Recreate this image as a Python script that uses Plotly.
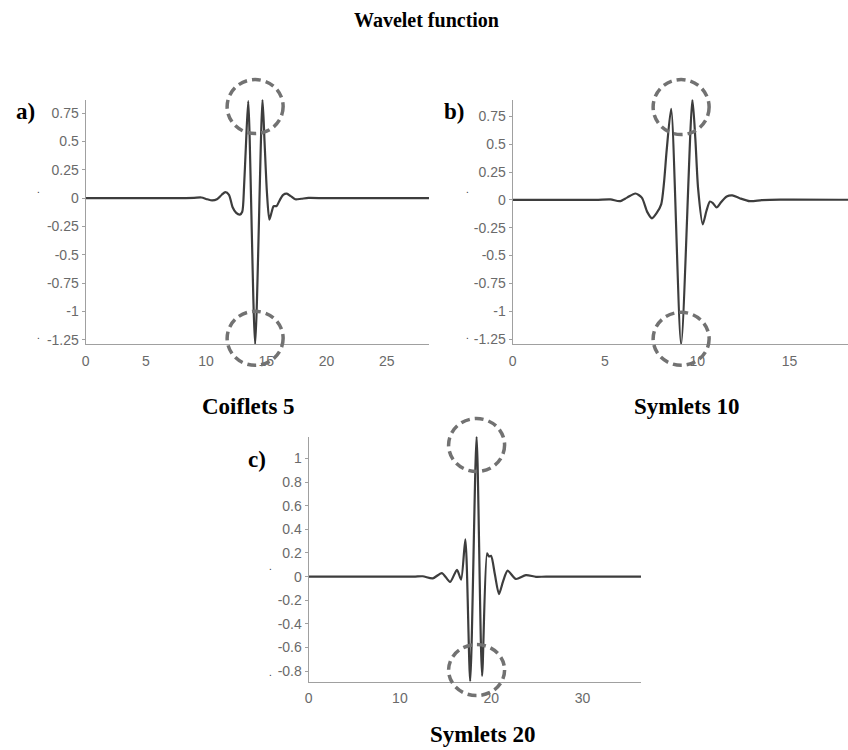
import plotly.graph_objects as go

# ---- wavelet samples (x = support position, y = psi amplitude) ----
coif5_x = [0, 7.5, 9.0, 9.6, 10.1, 10.5, 10.9, 11.3, 11.6, 11.9, 12.2, 12.5, 12.8,
           13.0, 13.15, 13.3, 13.5, 14.07, 14.68, 14.85, 15.05, 15.25, 15.45, 15.6,
           15.85, 16.1, 16.4, 16.7, 17.0, 17.4, 17.9, 18.5, 20, 29]
coif5_y = [0, 0, 0.003, 0.006, -0.01, -0.02, -0.01, 0.03, 0.053, 0.03, -0.08, -0.13,
           -0.145, -0.12, 0.1, 0.45, 0.856, -1.29, 0.87, 0.5, 0.05, -0.19, -0.12,
           -0.07, -0.07, -0.02, 0.03, 0.04, 0.02, -0.01, -0.005, 0.002, 0, 0]

sym10_x = [0, 4.5, 5.3, 5.8, 6.2, 6.65, 7.0, 7.3, 7.55, 7.8, 8.05, 8.2, 8.35, 8.59,
           9.13, 9.74, 9.9, 10.05, 10.3, 10.5, 10.69, 10.85, 11.05, 11.3, 11.6, 11.9,
           12.3, 12.85, 13.5, 14.5, 19]
sym10_y = [0, 0, 0.004, -0.012, 0.02, 0.057, 0.02, -0.11, -0.166, -0.12, -0.04, 0.15,
           0.45, 0.816, -1.297, 0.9, 0.55, 0.1, -0.22, -0.1, -0.015, -0.03, -0.068,
           -0.02, 0.03, 0.04, 0.015, -0.012, -0.003, 0.002, 0]

sym20_x = [0, 11.5, 12.5, 13.6, 14.6, 15.5, 16.25, 16.7, 17.17, 17.7, 18.4, 19.0,
           19.55, 19.75, 19.98, 20.4, 20.85, 21.3, 21.8, 22.7, 23.8, 24.9, 26, 39]
sym20_y = [0, 0, 0.003, -0.015, 0.03, -0.045, 0.058, -0.025, 0.316, -0.888, 1.185,
           -0.84, 0.196, 0.17, 0.176, 0.02, -0.148, -0.04, 0.05, -0.02, 0.013, -0.002,
           0, 0]

# ---- tick labels ----
ab_ytick_vals = [-1.25, -1, -0.75, -0.5, -0.25, 0, 0.25, 0.5, 0.75]
ab_ytick_text = ["-1.25", "-1", "-0.75", "-0.5", "-0.25", "0", "0.25", "0.5", "0.75"]
c_ytick_vals = [-0.8, -0.6, -0.4, -0.2, 0, 0.2, 0.4, 0.6, 0.8, 1]
c_ytick_text = ["-0.8", "-0.6", "-0.4", "-0.2", "0", "0.2", "0.4", "0.6", "0.8", "1"]
a_xticks = [0, 5, 10, 15, 20, 25]
b_xticks = [0, 5, 10, 15]
c_xticks = [0, 10, 20, 30]

titles = ["Coiflets 5", "Symlets 10", "Symlets 20"]
letters = ["a)", "b)", "c)"]

W, H = 848, 750


def fx(p):
    return p / W


def fy(p):
    return 1 - p / H


LINE_COLOR = "#3d3d3d"
AXIS_COLOR = "#a0a0a0"
TICK_FONT = dict(family="Liberation Sans, Arial, sans-serif", size=14, color="#6a6a6a")
SERIF = "Liberation Serif, Times New Roman, serif"
CIRCLE = dict(color="#727272", width=3.5, dash="9px,5px")

panels = [
    dict(x=coif5_x, y=coif5_y, xs="x", ys="y", dx=(82, 427), dy=(100, 345.7),
         xmax=28.5, xt=a_xticks, ytv=ab_ytick_vals, ytt=ab_ytick_text,
         top=(-34, 20), bot=(-21, 33), cap=(246, 408), let=(22, 112),
         dots=((35, 198), (35, 344))),
    dict(x=sym10_x, y=sym10_y, xs="x2", ys="y2", dx=(511, 848), dy=(100, 345.7),
         xmax=18.17, xt=b_xticks, ytv=ab_ytick_vals, ytt=ab_ytick_text,
         top=(-35, 20), bot=(-21, 32), cap=(686, 408), let=(452, 112),
         dots=((466, 198), (466, 344))),
    dict(x=sym20_x, y=sym20_y, xs="x3", ys="y3", dx=(306, 640), dy=(438.3, 684.3),
         xmax=36.4, xt=c_xticks, ytv=c_ytick_vals, ytt=c_ytick_text,
         top=(-35, 18), bot=(-14, 37), cap=(481, 737), let=(254, 461),
         dots=((268, 576), (268, 683))),
]

fig = go.Figure()
layout = dict(
    width=W, height=H, margin=dict(l=0, r=0, t=0, b=0),
    paper_bgcolor="white", plot_bgcolor="white", showlegend=False,
)
shapes = []
annotations = []

for i, p in enumerate(panels):
    fig.add_trace(go.Scatter(
        x=p["x"], y=p["y"], mode="lines", xaxis=p["xs"], yaxis=p["ys"],
        line=dict(color=LINE_COLOR, width=2.2, shape="spline", smoothing=0.7),
        hoverinfo="skip",
    ))
    xk = "xaxis" + ("" if i == 0 else str(i + 1))
    yk = "yaxis" + ("" if i == 0 else str(i + 1))
    layout[xk] = dict(
        domain=[fx(p["dx"][0]), fx(p["dx"][1])], anchor=p["ys"],
        range=[0, p["xmax"]], tickvals=p["xt"], ticktext=[str(t) for t in p["xt"]],
        showgrid=False, zeroline=False, showline=True, linecolor=AXIS_COLOR,
        linewidth=1, ticks="outside", ticklen=4, tickcolor="rgba(0,0,0,0)",
        tickfont=TICK_FONT,
    )
    layout[yk] = dict(
        domain=[fy(p["dy"][1]), fy(p["dy"][0])], anchor=p["xs"],
        range=[min(p["y"]), max(p["y"])], tickvals=p["ytv"], ticktext=p["ytt"],
        showgrid=False, zeroline=False, showline=True, linecolor=AXIS_COLOR,
        linewidth=1, ticks="outside", ticklen=3, tickcolor=AXIS_COLOR,
        tickfont=TICK_FONT,
    )

    # dashed rings around the dominant peak / trough
    ys = p["y"]
    k = max(range(len(ys)), key=lambda j: abs(ys[j]))
    xc = p["x"][k]
    for (y0, y1), anchor in ((p["top"], 1), (p["bot"], 0)):
        shapes.append(dict(
            type="circle", xref=p["xs"], yref=p["ys"] + " domain",
            xsizemode="pixel", ysizemode="pixel", xanchor=xc, yanchor=anchor,
            x0=-28, x1=28, y0=y0, y1=y1, line=CIRCLE, layer="above",
        ))

    annotations.append(dict(
        text="<b>%s</b>" % titles[i], xref="paper", yref="paper",
        x=fx(p["cap"][0]), y=fy(p["cap"][1]), xanchor="center", yanchor="middle",
        showarrow=False, font=dict(family=SERIF, size=23, color="black"),
    ))
    annotations.append(dict(
        text="<b>%s</b>" % letters[i], xref="paper", yref="paper",
        x=fx(p["let"][0]), y=fy(p["let"][1]), xanchor="center", yanchor="middle",
        showarrow=False, font=dict(family=SERIF, size=23, color="black"),
    ))
    # stray axis-title dots beside the y axis
    for dx, dy in p["dots"]:
        annotations.append(dict(
            text=".", xref="paper", yref="paper", x=fx(dx), y=fy(dy),
            xanchor="center", yanchor="bottom", showarrow=False,
            font=dict(family="Liberation Sans, Arial, sans-serif", size=10, color="#333"),
        ))

annotations.append(dict(
    text="<b>Wavelet function</b>", xref="paper", yref="paper",
    x=fx(424), y=fy(20), xanchor="center", yanchor="middle", showarrow=False,
    font=dict(family=SERIF, size=20, color="black"),
))

layout["shapes"] = shapes
layout["annotations"] = annotations
fig.update_layout(**layout)

fig.write_html("out.html")
